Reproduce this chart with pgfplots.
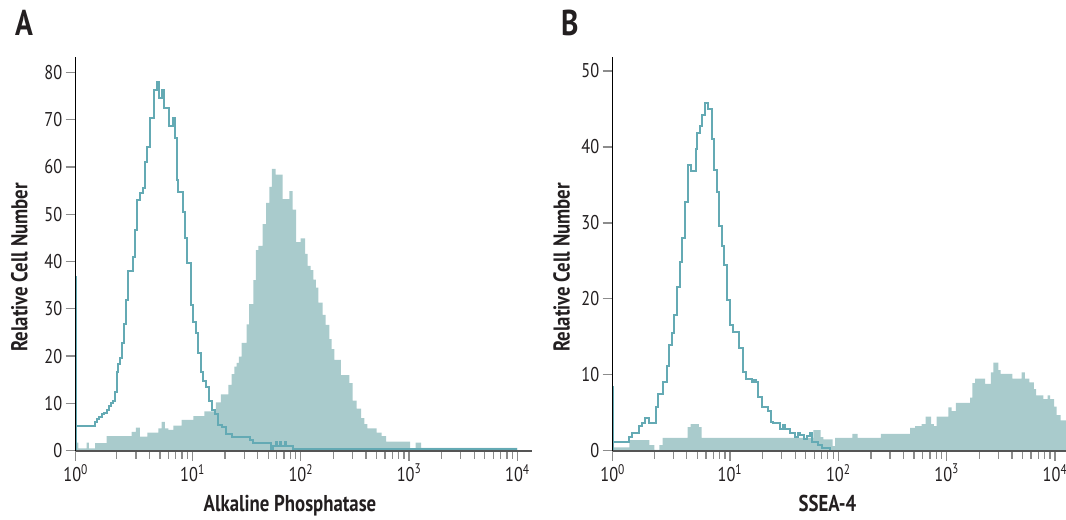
\documentclass[border=0pt]{standalone}
\usepackage{fontspec}
\setmainfont{PT Sans}[FakeStretch=0.82]
\usepackage{pgfplots}
\pgfplotsset{compat=1.18}

\definecolor{histfill}{RGB}{169,203,204}
\definecolor{histline}{RGB}{100,170,180}
\definecolor{axgray}{RGB}{85,85,85}
\definecolor{tickgray}{RGB}{140,140,140}
\definecolor{txt}{RGB}{35,31,32}

\pgfplotsset{
  flow/.style={
    scale only axis,
    anchor=south west,
    height=393.4bp,
    ymin=0,
    axis x line=bottom, axis y line=left,
    axis line style={-},
    x axis line style={draw=axgray, line width=2bp},
    y axis line style={draw=black, line width=1.1bp},
    axis on top,
    tick align=outside,
    major tick length=10bp, minor tick length=8bp,
    tick style={draw=tickgray, line width=1.3bp},
    /pgf/number format/assume math mode=true,
    tick label style={font=\fontsize{20}{22}\selectfont, text=txt},
    label style={font=\bfseries\fontsize{23}{26}\selectfont, text=txt, inner sep=0pt},
    xticklabels={10\textsuperscript{0},10\textsuperscript{1},10\textsuperscript{2},10\textsuperscript{3},10\textsuperscript{4}},
    minor xtick={0.30103,0.47712,0.60206,0.69897,0.77815,0.84510,0.90309,0.95424,
                 1.30103,1.47712,1.60206,1.69897,1.77815,1.84510,1.90309,1.95424,
                 2.30103,2.47712,2.60206,2.69897,2.77815,2.84510,2.90309,2.95424,
                 3.30103,3.47712,3.60206,3.69897,3.77815,3.84510,3.90309,3.95424},
  },
  fillplot/.style={const plot mark left, fill=histfill, draw=none},
  lineplot/.style={const plot mark left, draw=histline, line width=2bp},
}

\begin{document}
\begin{tikzpicture}
\path[use as bounding box] (0,0) rectangle (1066bp,520bp);

\node[anchor=base west, inner sep=0pt, text=txt, font=\bfseries\fontsize{36}{40}\selectfont] at (15bp,484bp) {A};
\node[anchor=base west, inner sep=0pt, text=txt, font=\bfseries\fontsize{36}{40}\selectfont] at (561bp,484bp) {B};

% panel A: Alkaline Phosphatase
\begin{axis}[flow,
  at={(75.7bp,69.3bp)}, width=456.3bp,
  xmin=-0.0785, xmax=4.135, ymax=83.2,
  xtick={-0.0785,1,2,3,4},
  ytick={0,10,...,80},
  xlabel={Alkaline Phosphatase},
  xlabel style={at={(axis description cs:0.4696,-0.155)}, anchor=base},
  ylabel={Relative Cell Number},
  ylabel style={at={(axis description cs:-0.1045,0.466)}, anchor=south},
]
\addplot[fillplot] coordinates {
  (-0.0785,1.7) (-0.054,0.5) (0.023,1.7) (0.044,0.5) (0.100,1.6) (0.207,3.1)
  (0.438,4.0) (0.478,4.9) (0.515,3.0) (0.583,3.8) (0.685,4.7) (0.716,6.1)
  (0.746,4.7) (0.777,4.4) (0.823,5.3) (0.900,6.5) (1.008,7.3) (1.109,8.3)
  (1.217,10.2) (1.263,11.9) (1.331,13.9) (1.362,16.2) (1.386,17.8) (1.408,18.6)
  (1.429,19.9) (1.454,22.8) (1.500,26.7) (1.522,31.0) (1.562,36.1) (1.586,42.4)
  (1.608,43.3) (1.648,47.9) (1.679,52.4) (1.709,55.8) (1.734,59.6) (1.768,58.4)
  (1.833,53.2) (1.894,54.9) (1.925,51.0) (1.956,44.1) (1.999,44.9) (2.039,41.6)
  (2.064,39.1) (2.091,38.2) (2.116,36.2) (2.140,34.5) (2.162,31.3) (2.202,28.7)
  (2.230,26.6) (2.264,23.6) (2.285,21.5) (2.310,19.2) (2.371,16.0) (2.448,14.3)
  (2.479,10.6) (2.516,8.9) (2.556,6.9) (2.587,5.6) (2.615,4.7) (2.701,3.8)
  (2.747,3.1) (2.787,1.9) (3.009,0.5) (3.061,1.7) (3.110,0.6) (3.999,0.6)
} \closedcycle;
\addplot[lineplot] coordinates {
  (-0.0785,0) (-0.0785,36.8) (-0.072,5.2) (0.100,6.1) (0.121,6.6) (0.140,7.2)
  (0.161,7.8) (0.183,8.0) (0.207,8.7) (0.226,9.5) (0.247,10.0) (0.269,10.6)
  (0.284,12.5) (0.300,16.7) (0.315,18.3) (0.331,19.5) (0.349,22.7) (0.367,26.9)
  (0.386,31.9) (0.407,37.9) (0.429,38.1) (0.448,41.0) (0.469,46.7) (0.491,53.0)
  (0.515,54.6) (0.540,55.5) (0.561,61.1) (0.583,64.3) (0.608,70.3) (0.648,76.3)
  (0.675,77.9) (0.691,74.6) (0.721,76.3) (0.740,72.5) (0.786,68.7) (0.817,70.3)
  (0.835,66.2) (0.854,57.2) (0.869,54.8) (0.909,50.5) (0.931,44.9) (0.952,39.6)
  (0.983,30.8) (1.008,27.3) (1.029,24.8) (1.054,20.7) (1.075,16.7) (1.094,14.8)
  (1.122,13.4) (1.155,10.6) (1.177,8.6) (1.208,7.7) (1.238,5.4) (1.269,5.1)
  (1.307,3.5) (1.362,2.8) (1.531,2.3) (1.556,1.6) (1.722,0.4) (1.747,1.0)
  (1.770,1.9) (1.780,1.0) (1.805,1.9) (1.815,1.0) (1.850,1.9) (1.860,1.0)
  (1.925,0.3) (3.999,0.3)
};
\end{axis}

% panel B: SSEA-4
\begin{axis}[flow,
  at={(612.7bp,69.3bp)}, width=453.3bp,
  xmin=-0.082, xmax=4.1015, ymax=51.8,
  xtick={-0.082,1,2,3,4},
  ytick={0,10,...,50},
  xlabel={SSEA-4},
  xlabel style={at={(axis description cs:0.4738,-0.155)}, anchor=base},
  ylabel={Relative Cell Number},
  ylabel style={at={(axis description cs:-0.094,0.466)}, anchor=south},
]
\addplot[fillplot] coordinates {
  (-0.082,0.45) (0.071,1.4) (0.256,0.75) (0.302,0.1) (0.348,0.75) (0.379,1.7)
  (0.610,3.1) (0.637,3.5) (0.714,3.1) (0.739,1.7) (1.770,2.7) (1.837,1.8)
  (1.862,1.5) (1.948,0.6) (1.970,1.7) (2.129,2.2) (2.179,1.7) (2.394,2.2)
  (2.662,3.0) (2.708,3.25) (2.769,3.5) (2.806,4.5) (2.856,3.5) (2.883,3.25)
  (2.908,4.5) (3.016,5.7) (3.046,5.2) (3.086,6.3) (3.216,7.0) (3.237,8.9)
  (3.262,9.5) (3.354,8.8) (3.409,10.3) (3.431,11.6) (3.477,10.6) (3.499,10.1)
  (3.606,9.5) (3.692,10.3) (3.723,9.5) (3.763,9.0) (3.806,8.1) (3.825,7.3)
  (3.892,6.8) (3.932,7.3) (3.954,6.8) (3.991,5.8) (4.015,4.7) (4.052,4.0)
  (4.1015,4.0)
} \closedcycle;
\addplot[lineplot] coordinates {
  (-0.082,0) (-0.082,8.4) (-0.075,1.1) (0.071,1.8) (0.093,2.3) (0.164,3.2)
  (0.191,3.7) (0.216,4.3) (0.253,3.6) (0.314,5.7) (0.339,7.5) (0.379,9.0)
  (0.416,11.2) (0.437,13.9) (0.462,15.5) (0.484,17.9) (0.508,21.5) (0.539,24.9)
  (0.561,28.0) (0.585,32.8) (0.610,37.6) (0.637,36.8) (0.684,39.7) (0.699,41.8)
  (0.724,42.8) (0.745,44.2) (0.770,45.8) (0.800,45.0) (0.831,41.0) (0.856,36.9)
  (0.877,34.1) (0.899,29.6) (0.924,27.0) (0.948,24.4) (0.976,19.9) (1.000,16.5)
  (1.025,15.6) (1.087,13.5) (1.124,10.3) (1.145,9.5) (1.200,9.0) (1.222,9.3)
  (1.240,9.0) (1.262,7.1) (1.293,5.7) (1.354,5.2) (1.376,3.8) (1.394,3.6)
  (1.462,2.9) (1.492,3.4) (1.505,2.8) (1.554,2.3) (1.600,1.8) (1.631,2.3)
  (1.647,2.1) (1.683,1.6) (1.714,1.9) (1.739,2.3) (1.754,1.2) (1.815,0.75)
  (1.846,0.3) (1.923,0)
};
\end{axis}
\end{tikzpicture}
\end{document}
